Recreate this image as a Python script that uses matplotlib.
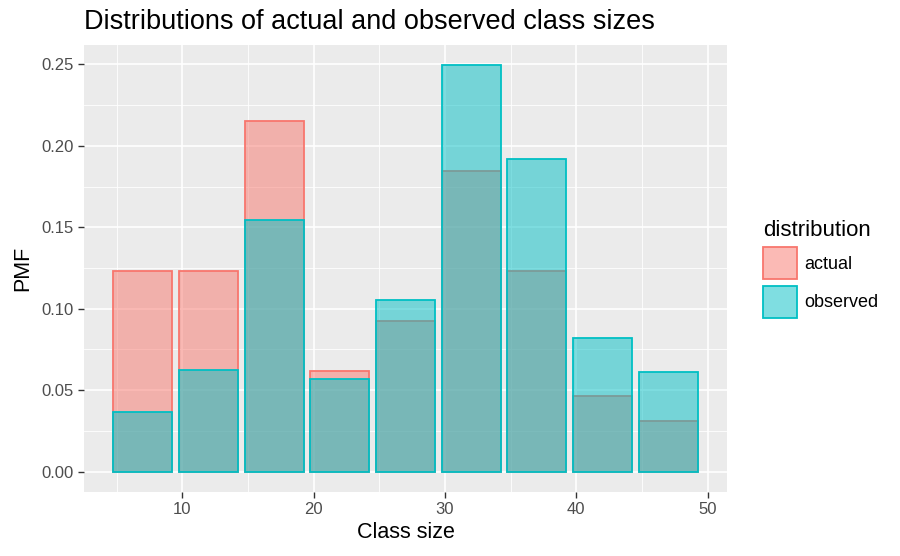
import matplotlib
matplotlib.use('Agg')
import matplotlib.pyplot as plt
from matplotlib.patches import Patch
from matplotlib.colors import to_rgba

plt.rcParams['font.family'] = ['Liberation Sans', 'DejaVu Sans']

class_sizes = [7, 12, 17, 22, 27, 32, 37, 42, 47]
actual = [0.1231, 0.1231, 0.2154, 0.0615, 0.0923, 0.1846, 0.1231, 0.0462, 0.0308]
observed = [0.0364, 0.0623, 0.1545, 0.0571, 0.1052, 0.2494, 0.1922, 0.0818, 0.0610]
series = ['actual', 'observed']
colors = ['#F8766D', '#00BFC4']


def main():
    fig = plt.figure(figsize=(9, 5.56), dpi=100)
    ax = fig.add_axes([84 / 900, 64 / 556, 643 / 900, 447 / 556])
    ax.set_facecolor('#EBEBEB')

    # each series: fill + outline together, observed on top of actual
    for i, (vals, col) in enumerate(zip([actual, observed], colors)):
        ax.bar(class_sizes, vals, width=4.5, color=to_rgba(col, 0.5),
               edgecolor=col, linewidth=1.3, zorder=3 + i)

    ax.set_xlim(2.525, 51.475)
    ax.set_ylim(-0.0125, 0.2619)
    ax.set_xticks([10, 20, 30, 40, 50])
    ax.set_xticks([5, 15, 25, 35, 45], minor=True)
    ax.set_yticks([0, 0.05, 0.10, 0.15, 0.20, 0.25])
    ax.set_yticks([0.025, 0.075, 0.125, 0.175, 0.225], minor=True)
    ax.set_yticklabels(['0.00', '0.05', '0.10', '0.15', '0.20', '0.25'])
    ax.grid(which='major', color='white', linewidth=1.2, zorder=0)
    ax.grid(which='minor', color='white', linewidth=0.6, zorder=0)
    ax.set_axisbelow(True)
    for s in ax.spines.values():
        s.set_visible(False)
    ax.tick_params(which='major', length=4, color='#333333', width=1,
                   labelsize=12, labelcolor='#4D4D4D')
    ax.tick_params(which='minor', length=0)

    ax.set_xlabel('Class size', fontsize=15.5, labelpad=3)
    ax.set_ylabel('PMF', fontsize=15.5, labelpad=6)
    fig.text(84 / 900, 1 - 22 / 556, 'Distributions of actual and observed class sizes',
             fontsize=19.5, va='center', ha='left')

    handles = [Patch(facecolor=to_rgba(c, 0.5), edgecolor=c, linewidth=1.3)
               for c in colors]
    leg = fig.legend(handles, series, title='distribution', loc='upper left',
                     bbox_to_anchor=(763 / 900, 1 - 220 / 556), frameon=False,
                     fontsize=13, title_fontsize=16, handlelength=1.9,
                     handleheight=2.35, handletextpad=0.4, labelspacing=0.35,
                     borderaxespad=0, borderpad=0)
    leg._legend_box.align = 'left'

    plt.savefig('out.png', format='png')


if __name__ == "__main__":
    main()
